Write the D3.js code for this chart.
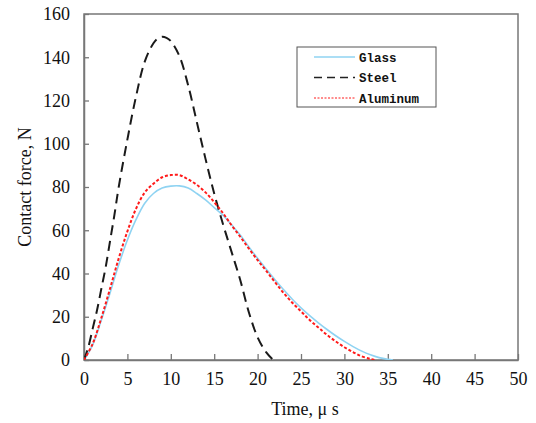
<!DOCTYPE html>
<html>
<head>
<meta charset="utf-8">
<script src="https://cdn.jsdelivr.net/npm/d3@7"></script>
<style>
  html, body { margin: 0; padding: 0; background: #fff; }
  svg { display: block; }
</style>
</head>
<body>
<svg id="chart" width="536" height="423"></svg>
<script>
// Contact force histories (time in microseconds, force in newtons)
const glassT = [0,1,2,3,4,5,6,7,8,9,10,11,12,13,14,15,16,17,18,19,20,21,22,23,24,25,26,27,28,29,30,31,32,33,34,35,35.6];
const glassF = [0,7,18.5,31,44,55.5,65,72.5,77,79.5,80.4,80.5,79.5,77,74,70.5,67,62.5,57.8,52.3,47,42,37.1,32.5,28.1,24.1,20.5,17.2,14.1,11.2,8.6,6.2,4.1,2.4,1.1,0.3,0];

const steelT = [0,0.5,1,1.5,2,2.5,3,3.5,4,5,6,7,8,8.5,9,9.5,10,11,12,13,14,15,16,17,18,19,20,21,21.8];
const steelF = [0,6,14.5,23,33,43,55,67,80,102,122,138,146.5,148.7,149.5,149,147.5,140.5,127,110,93,77,63,50,37,22,10.5,3.5,0];

const alumT = [0,1,2,3,4,5,6,7,8,9,10,11,12,13,14,15,16,17,18,19,20,21,22,23,24,25,26,27,28,29,30,31,32,33,33.5];
const alumF = [0,7.5,19.5,33,47,59.5,70,77.5,81.5,84.5,85.5,85.5,83.5,81,77.5,73,68,62.3,57,51.5,46.2,41.2,36,31,26.5,22.5,18.5,15,11.6,8.6,5.9,3.6,1.7,0.5,0];

const xTicks = [0,5,10,15,20,25,30,35,40,45,50];
const yTicks = [0,20,40,60,80,100,120,140,160];
const seriesNames = ["Glass", "Steel", "Aluminum"];

const svg = d3.select("#chart");
const plotLeft = 84, plotRight = 518, plotTop = 14, plotBottom = 360;

const x = d3.scaleLinear().domain([0, 50]).range([plotLeft, plotRight]);
const y = d3.scaleLinear().domain([0, 160]).range([plotBottom, plotTop]);

const frameColor = "#777";
const serif = "'Liberation Serif', 'DejaVu Serif', serif";

// plot frame
svg.append("rect")
  .attr("x", plotLeft).attr("y", plotTop)
  .attr("width", plotRight - plotLeft).attr("height", plotBottom - plotTop)
  .attr("fill", "none").attr("stroke", frameColor).attr("stroke-width", 1.5);

// x axis with inward ticks
const xAxis = svg.append("g")
  .attr("transform", `translate(0,${plotBottom})`)
  .call(d3.axisBottom(x).tickValues(xTicks).tickSizeInner(-6).tickSizeOuter(0).tickPadding(12));
xAxis.select(".domain").attr("stroke", frameColor).attr("stroke-width", 1.5);
xAxis.selectAll(".tick line").attr("stroke", frameColor).attr("stroke-width", 1.3);
xAxis.selectAll(".tick text").attr("font-family", serif).attr("font-size", 18).attr("fill", "#111");

// y axis with inward ticks
const yAxis = svg.append("g")
  .attr("transform", `translate(${plotLeft},0)`)
  .call(d3.axisLeft(y).tickValues(yTicks).tickSizeInner(-5).tickSizeOuter(0).tickPadding(14));
yAxis.select(".domain").attr("stroke", frameColor).attr("stroke-width", 1.5);
yAxis.selectAll(".tick line").attr("stroke", frameColor).attr("stroke-width", 1.3);
yAxis.selectAll(".tick text").attr("font-family", serif).attr("font-size", 18).attr("fill", "#111");

// axis titles
svg.append("text")
  .attr("x", 305).attr("y", 415)
  .attr("text-anchor", "middle")
  .attr("font-family", serif).attr("font-size", 18).attr("fill", "#111")
  .text("Time, \u03BC s");

svg.append("text")
  .attr("transform", "translate(31,187) rotate(-90)")
  .attr("text-anchor", "middle")
  .attr("font-family", serif).attr("font-size", 18).attr("fill", "#111")
  .text("Contact force, N");

// curves, clipped to the plot area so the smooth spline never dips below zero
svg.append("clipPath").attr("id", "plot-clip")
  .append("rect")
  .attr("x", plotLeft).attr("y", plotTop)
  .attr("width", plotRight - plotLeft).attr("height", plotBottom - plotTop);

const line = d3.line()
  .x(d => x(d[0])).y(d => y(d[1]))
  .curve(d3.curveCatmullRom.alpha(0.5));

const styles = {
  Glass:    { color: "#8fd3f2", width: 1.6, dash: null },
  Steel:    { color: "#1a1a1a", width: 2,   dash: "10,6" },
  Aluminum: { color: "#ff1a1a", width: 2,   dash: "3,2" }
};

const series = [
  { name: "Glass", pts: d3.zip(glassT, glassF) },
  { name: "Steel", pts: d3.zip(steelT, steelF) },
  { name: "Aluminum", pts: d3.zip(alumT, alumF) }
];

const curves = svg.append("g").attr("clip-path", "url(#plot-clip)");
series.forEach(s => {
  const st = styles[s.name];
  curves.append("path")
    .datum(s.pts)
    .attr("d", line)
    .attr("fill", "none")
    .attr("stroke", st.color)
    .attr("stroke-width", st.width)
    .attr("stroke-dasharray", st.dash);
});

// legend
const lg = svg.append("g");
lg.append("rect")
  .attr("x", 297).attr("y", 47).attr("width", 139).attr("height", 60)
  .attr("fill", "#fff").attr("stroke", "#555").attr("stroke-width", 1);

const legendStyles = {
  Glass:    { color: "#8fd3f2", width: 1.5, dash: null },
  Steel:    { color: "#222",    width: 1.6, dash: "8,5" },
  Aluminum: { color: "#ff1a1a", width: 1,   dash: "2,1.5" }
};

seriesNames.forEach((name, i) => {
  const cy = 57 + i * 20.5;
  const st = legendStyles[name];
  lg.append("line")
    .attr("x1", 314).attr("x2", 355).attr("y1", cy).attr("y2", cy)
    .attr("stroke", st.color).attr("stroke-width", st.width)
    .attr("stroke-dasharray", st.dash);
  lg.append("text")
    .attr("x", 359).attr("y", cy + 4.5)
    .attr("font-family", "'Liberation Mono', 'DejaVu Sans Mono', monospace")
    .attr("font-weight", "bold").attr("font-size", 12.5).attr("fill", "#111")
    .text(name);
});
</script>
</body>
</html>
